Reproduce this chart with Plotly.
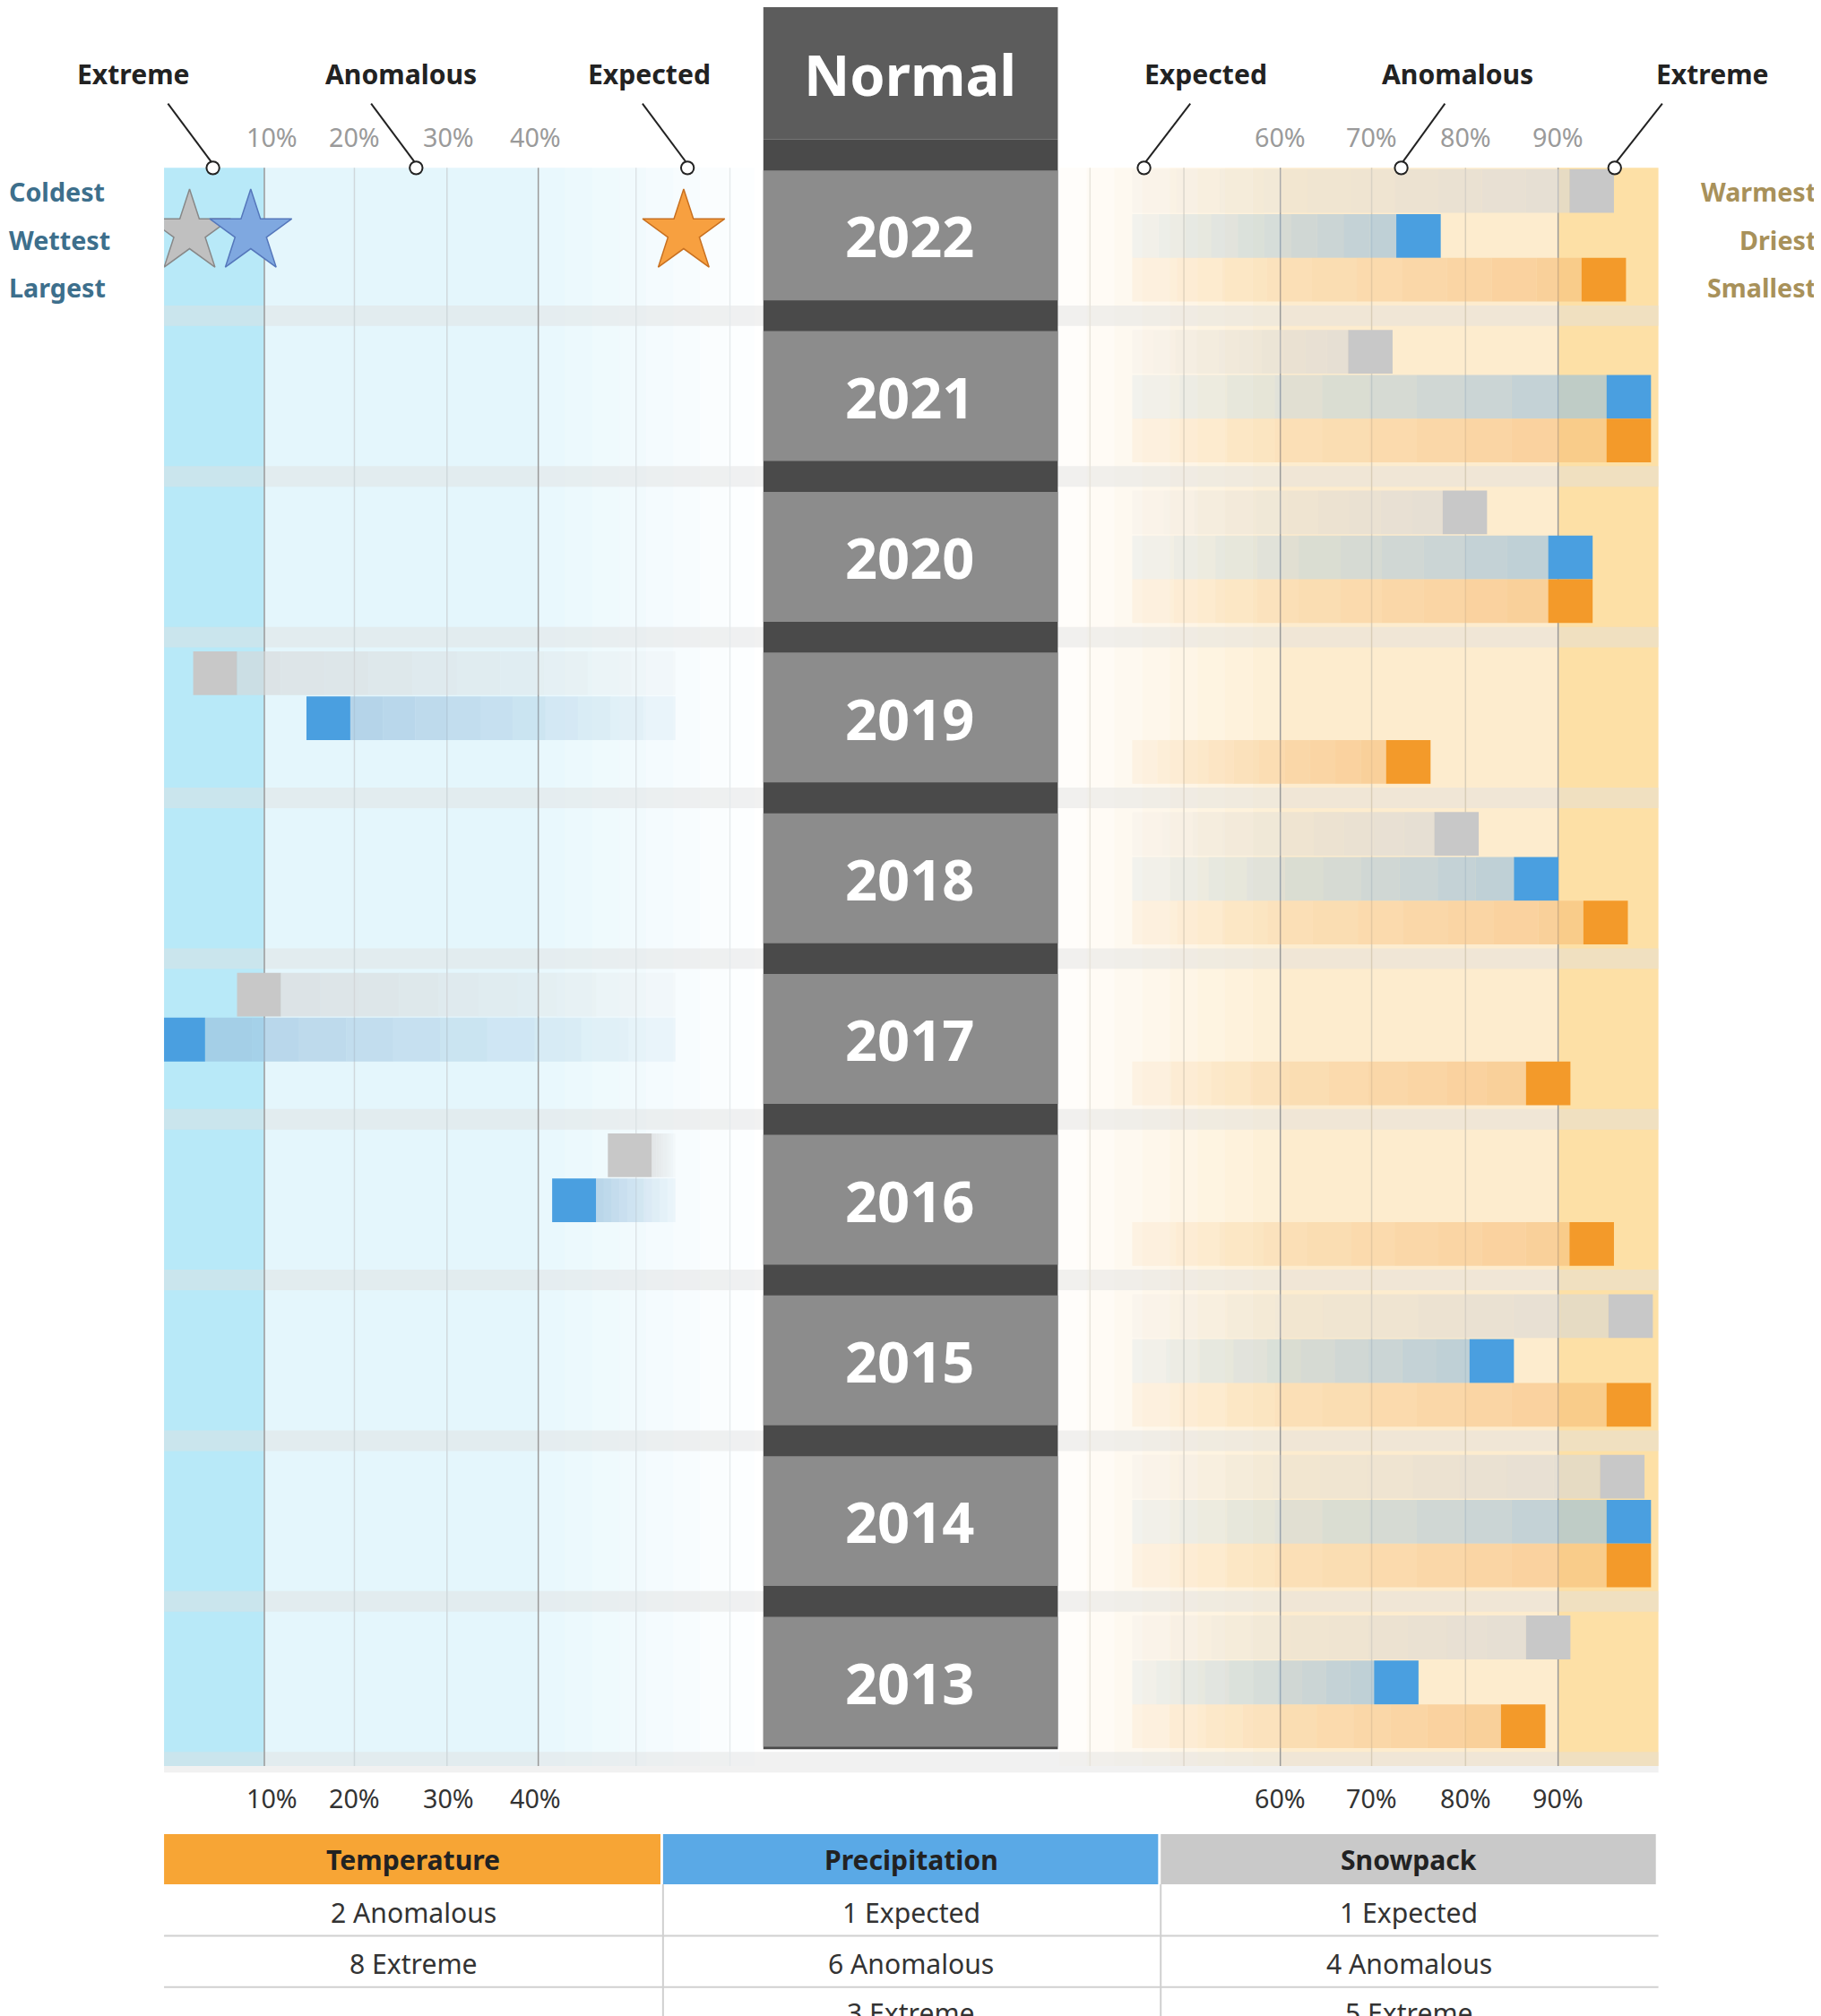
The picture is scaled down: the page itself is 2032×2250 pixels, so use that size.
import plotly.graph_objects as go

# percentile ranks per year (left axis < 50, right axis >= 50)
years = [2022, 2021, 2020, 2019, 2018, 2017, 2016, 2015, 2014, 2013]
snowpack = [93.6, 69.7, 79.9, 4.6, 79.0, 9.4, 50.0, 97.8, 96.9, 88.9]
precip = [74.9, 97.6, 91.3, 17.0, 87.6, 1.1, 43.9, 82.8, 97.6, 72.5]
temperature = [94.9, 97.6, 91.3, 73.8, 95.1, 88.9, 93.6, 97.6, 97.6, 86.2]
left_ticks = ["10%", "20%", "30%", "40%"]
right_ticks = ["60%", "70%", "80%", "90%"]
table_cols = ["Temperature", "Precipitation", "Snowpack"]
table_rows = [["2 Anomalous", "8 Extreme", ""],
              ["1 Expected", "6 Anomalous", "3 Extreme"],
              ["1 Expected", "4 Anomalous", "5 Extreme"]]

W, H = 1416, 1568
S = 2032 / W
def px(x): return x / W
def py(y): return 1 - y / H
def fs(v): return v * S

GREY, BLUE, ORANGE = (200, 200, 200), (74, 159, 224), (243, 154, 42)
TAIL = {GREY: (215, 215, 215), BLUE: (150, 190, 220), ORANGE: (247, 190, 120)}

fig = go.Figure()

def add_measure(vals, col, dy):
    for i, v in enumerate(vals):
        yc = 178 + 125 * i + dy
        right = v > 50
        xa = "x2" if right else "x"
        n = 10
        if right:
            start, end = 44, v - 2.4
        else:
            start, end = 55, v + 2.4
        step = (end - start) / n
        tc = TAIL[col]
        for k in range(n):
            a = 0.05 + 0.55 * (k + 1) / n
            fig.add_trace(go.Bar(orientation="h", y=[yc], base=[start + k * step], x=[step],
                                 width=34, xaxis=xa, yaxis="y",
                                 marker=dict(color=f"rgba({tc[0]},{tc[1]},{tc[2]},{a:.2f})", line_width=0),
                                 showlegend=False, hoverinfo="skip"))
        fig.add_trace(go.Bar(orientation="h", y=[yc], base=[v - 2.4], x=[4.8], width=34,
                             xaxis=xa, yaxis="y",
                             marker=dict(color=f"rgb({col[0]},{col[1]},{col[2]})", line_width=0),
                             showlegend=False, hovertemplate=f"{years[i]}: {v}%<extra></extra>"))

add_measure(snowpack, GREY, -35)
add_measure(precip, BLUE, 0)
add_measure(temperature, ORANGE, 34)

# record stars for 2022
fig.add_trace(go.Scatter(x=[1.8, 8.5, 55.9], y=[175, 175, 175], mode="markers", xaxis="x", yaxis="y",
                         marker=dict(symbol="star", size=fs(48), color=["#c0c0c0", "#7fa8e0", "#f7a040"],
                                     line=dict(color=["#888", "#5577bb", "#c87020"], width=1.5)),
                         showlegend=False, hoverinfo="skip"))

shapes = []
def rect(x0, y0, x1, y1, color, layer="below"):
    shapes.append(dict(type="rect", xref="paper", yref="paper", x0=px(x0), x1=px(x1),
                       y0=py(y1), y1=py(y0), fillcolor=color, line_width=0, layer=layer))
def line(x0, y0, x1, y1, color, w=1.5, layer="below"):
    shapes.append(dict(type="line", xref="paper", yref="paper", x0=px(x0), x1=px(x1),
                       y0=py(y0), y1=py(y1), line=dict(color=color, width=w), layer=layer))

# background bands
rect(122, 125, 200, 1368, "#b8e9f8")
rect(200, 125, 413, 1368, "#e4f6fc")
for k in range(8):
    rect(413 + k * 21, 125, 413 + (k + 1) * 21, 1368, f"rgba(228,246,252,{0.8 - k * 0.1:.2f})")
for k in range(8):
    rect(818 + k * 21.5, 125, 818 + (k + 1) * 21.5, 1368, f"rgba(253,236,205,{0.1 + k * 0.1:.2f})")
rect(990, 125, 1206, 1368, "#fdecce")
rect(1206, 125, 1284, 1368, "#fde0a6")
# faint horizontal separators
for i in range(10):
    yb = 240 + 125 * i
    rect(122, yb - 8, 1284, yb + 8, "rgba(225,225,225,0.45)")
# grid lines
for x, c in [(200, "#9a9a9a"), (270, "#cfd8dc"), (342, "#cfd8dc"), (413, "#9a9a9a"), (489, "#dde3e6"),
             (562, "#e6eaec"), (842, "#e8e4dc"), (915, "#ddd6ca"), (990, "#9a9a9a"), (1061, "#d8cdb8"),
             (1134, "#d8cdb8"), (1206, "#9a9a9a")]:
    line(x, 125, x, 1368, c, 1.5)

# center column
rect(588, 0, 817, 103, "#5c5c5c", "above")
rect(588, 103, 817, 1355, "#4a4a4a", "above")
for i in range(10):
    y0 = 127 + 125 * i
    rect(588, y0, 817, y0 + 101, "#8c8c8c", "above")

# leader lines
for (x0, x1) in [(125, 160), (283, 318), (494, 529), (920, 884), (1118, 1084), (1287, 1250)]:
    line(x0, 75, x1, 122, "#222", 2)
    shapes.append(dict(type="circle", xref="paper", yref="paper", x0=px(x1 - 5), x1=px(x1 + 5),
                       y0=py(130), y1=py(120), line=dict(color="#222", width=2), fillcolor="white"))

# table
for (x0, x1), c in zip([(122, 510), (510, 897), (897, 1284)], ["#f7a535", "#5aa9e6", "#c9c9c9"]):
    rect(x0, 1421, x1 - 2, 1460, c)
for yl in [1500, 1540]:
    line(122, yl, 1284, yl, "#d0d0d0", 2)
for xl in [510, 897]:
    line(xl, 1460, xl, 1568, "#d0d0d0", 2)

ann = []
def text(x, y, t, size, color, bold=False, xanchor="center", family="Noto Sans"):
    ann.append(dict(xref="paper", yref="paper", x=px(x), y=py(y), text=f"<b>{t}</b>" if bold else t,
                    showarrow=False, xanchor=xanchor, yanchor="middle",
                    font=dict(size=fs(size), color=color, family=family)))

text(702, 52, "Normal", 44, "white", True)
for i, yr in enumerate(years):
    text(702, 178 + 125 * i, str(yr), 44, "white", True)
for x, t in [(98, "Extreme"), (306, "Anomalous"), (499, "Expected"), (932, "Expected"), (1128, "Anomalous"), (1326, "Extreme")]:
    text(x, 52, t, 21, "#222", True)
for x, t in zip([206, 270, 343, 411], left_ticks):
    text(x, 101, t, 20, "#9a9a9a")
    text(x, 1393, t, 20, "#333")
for x, t in zip([990, 1061, 1134, 1206], right_ticks):
    text(x, 101, t, 20, "#9a9a9a")
    text(x, 1393, t, 20, "#333")
for y, t in [(143, "Coldest"), (181, "Wettest"), (218, "Largest")]:
    text(0, y, t, 20, "#3d6f8c", True, "left")
for y, t in [(143, "Warmest"), (181, "Driest"), (218, "Smallest")]:
    text(1408, y, t, 20, "#a8915a", True, "right")
for xc, col, rows in zip([316, 703, 1090], table_cols, table_rows):
    text(xc, 1441, col, 21, "#222", True)
    for y, r in zip([1482, 1522, 1560], rows):
        if r:
            text(xc, y, r, 21, "#333")

fig.update_layout(
    width=2032, height=2250, margin=dict(l=0, r=0, t=0, b=0),
    paper_bgcolor="white", plot_bgcolor="rgba(0,0,0,0)", barmode="overlay",
    xaxis=dict(domain=[px(122), px(585)], range=[-0.99, 64.2], visible=False, fixedrange=True),
    xaxis2=dict(domain=[px(818), px(1284)], range=[36.1, 100.8], visible=False, fixedrange=True),
    yaxis=dict(domain=[py(1368), py(125)], range=[1368, 125], visible=False, fixedrange=True),
    shapes=shapes, annotations=ann,
)

fig.write_html("out.html")
